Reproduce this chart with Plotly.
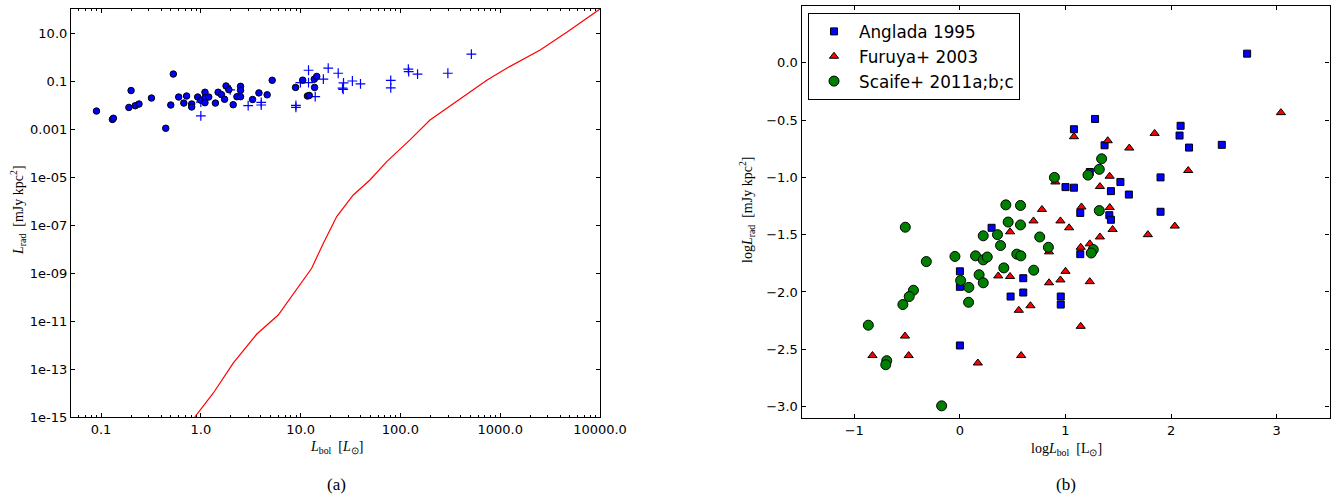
import plotly.graph_objects as go

# ---------------- Panel (a) data ----------------
lbol_circ = [0.090, 0.130, 0.133, 0.19, 0.20, 0.22, 0.24, 0.32, 0.445, 0.53, 0.50, 0.60, 0.675, 0.72,
             0.81, 0.81, 0.93, 1.0, 1.10, 1.10, 1.10, 1.20, 1.40, 1.49, 1.61, 1.73, 1.79, 1.91, 2.11,
             2.30, 2.50, 2.50, 2.50, 3.30, 3.82, 4.62, 5.19, 8.9, 10.5, 11.7, 12.2, 13.8, 13.7, 14.5]
lrad_circ = [5.6e-3, 2.5e-3, 2.8e-3, 7.9e-3, 0.040, 9.3e-3, 0.011, 0.0195, 1.07e-3, 0.195, 0.010,
             0.0215, 0.012, 0.0237, 0.011, 8.3e-3, 0.0215, 0.0158, 0.034, 0.020, 0.0125, 0.0215,
             0.012, 0.034, 0.027, 0.0173, 0.062, 0.0435, 0.0103, 0.0222, 0.060, 0.041, 0.0222,
             0.017, 0.032, 0.0266, 0.107, 0.054, 0.108, 0.0237, 0.025, 0.054, 0.119, 0.155]

lbol_plus = [1.0, 1.0, 1.97, 2.98, 4.03, 4.03, 8.97, 8.97, 9.95, 12.0, 12.0, 14.0, 16.9, 18.9, 23.8,
             26.9, 26.3, 26.7, 33.0, 39.8, 80, 80, 120, 121, 148.5, 299, 514]
lrad_plus = [0.0133, 3.55e-3, 0.043, 9.5e-3, 0.0129, 0.010, 9.7e-3, 8.0e-3, 0.085, 0.28, 0.085,
             0.0222, 0.119, 0.345, 0.21, 0.083, 0.050, 0.0447, 0.1, 0.076, 0.106, 0.052, 0.31,
             0.245, 0.195, 0.21, 1.31]

lbol_line = [0.87, 1.33, 2.11, 3.62, 5.96, 8.77, 12.9, 16.9, 23.0, 33.7, 49.5, 72.9, 124.7, 198,
             740, 1172, 2512, 4688, 10000]
lrad_line = [1.0e-15, 9.8e-15, 1.74e-13, 2.8e-12, 1.78e-11, 1.66e-10, 1.58e-9, 1.74e-8, 2.24e-7,
             1.78e-6, 7.5e-6, 4.4e-5, 3.5e-4, 2.37e-3, 0.110, 0.348, 1.95, 11.0, 100]

a_xtickvals = [0.1, 1, 10, 100, 1000, 10000]
a_xticktext = ["0.1", "1.0", "10.0", "100.0", "1000.0", "10000.0"]
a_ytickvals = [1e-15, 1e-13, 1e-11, 1e-9, 1e-7, 1e-5, 1e-3, 1e-1, 10]
a_yticktext = ["1e-15", "1e-13", "1e-11", "1e-09", "1e-07", "1e-05", "0.001", "0.1", "10.0"]

# ---------------- Panel (b) data ----------------
ang_x = [1.0, 0.30, 0.0, 0.0, 0.60, 0.60, 0.48, 0.955, 0.955, 0.0, 2.72, 1.28, 1.08, 2.09, 2.08,
         1.37, 2.17, 2.48, 1.23, 1.08, 1.52, 1.90, 1.43, 1.60, 1.14, 1.415, 1.43, 1.90, 1.14]
ang_y = [-1.085, -1.44, -1.82, -1.955, -1.88, -2.005, -2.04, -2.04, -2.11, -2.467, 0.08, -0.49,
         -0.58, -0.55, -0.635, -0.72, -0.74, -0.716, -0.953, -1.09, -1.04, -1.00, -1.12, -1.15,
         -1.31, -1.33, -1.37, -1.30, -1.67]

fur_x = [0.904, 0.777, 0.697, 0.952, 1.034, 0.475, 0.844, 1.0, 0.363, 0.475, 0.844, 0.952, 0.558,
         0.668, -0.52, -0.828, -0.485, 0.17, 0.58, 3.04, 1.08, 1.40, 1.844, 1.604, 2.162, 1.418,
         1.326, 1.151, 1.419, 1.446, 1.326, 1.78, 2.035, 1.144, 1.23, 1.23, 1.144]
fur_y = [-1.04, -1.28, -1.38, -1.38, -1.44, -1.475, -1.65, -1.82, -1.86, -1.865, -1.92, -1.895,
         -2.16, -2.12, -2.385, -2.555, -2.555, -2.62, -2.555, -0.435, -0.645, -0.68, -0.616,
         -0.744, -0.94, -0.99, -1.08, -1.258, -1.263, -1.455, -1.52, -1.50, -1.425, -1.61, -1.58,
         -1.91, -2.30]

sca_x = [0.895, 0.435, 0.574, -0.517, 0.457, 0.574, 0.221, 0.356, 0.756, 0.385, 0.838, -0.047,
         0.148, 0.221, 0.259, 0.539, 0.577, -0.318, 0.416, 0.699, 0.182, 0.007, 0.221, 0.085,
         -0.44, -0.48, -0.54, 0.082, -0.867, -0.693, -0.702, -0.173, 1.342, 1.32, 1.213, 1.32,
         1.263, 1.244]
sca_y = [-1.00, -1.24, -1.245, -1.435, -1.39, -1.415, -1.51, -1.50, -1.52, -1.595, -1.61, -1.69,
         -1.685, -1.72, -1.695, -1.67, -1.685, -1.735, -1.79, -1.81, -1.85, -1.90, -1.92, -1.96,
         -1.985, -2.04, -2.11, -2.09, -2.29, -2.60, -2.635, -2.994, -0.838, -0.93, -0.98, -1.29,
         -1.63, -1.66]

b_xtickvals = [-1, 0, 1, 2, 3]
b_xticktext = ["\u22121", "0", "1", "2", "3"]
b_ytickvals = [0.5, 0.0, -0.5, -1.0, -1.5, -2.0, -2.5, -3.0]
b_yticktext = ["0.5", "0.0", "\u22120.5", "\u22121.0", "\u22121.5", "\u22122.0", "\u22122.5", "\u22123.0"]

series_names = ["Anglada 1995", "Furuya+ 2003", "Scaife+ 2011a;b;c"]

W, H = 1344, 499
fig = go.Figure()

# panel (a)
fig.add_trace(go.Scatter(x=lbol_line, y=lrad_line, mode="lines", line=dict(color="red", width=1.2),
                         xaxis="x", yaxis="y", showlegend=False))
fig.add_trace(go.Scatter(x=lbol_plus, y=lrad_plus, mode="markers", xaxis="x", yaxis="y",
                         marker=dict(symbol="cross-thin", size=7, color="#0000ff",
                                     line=dict(color="#0000ff", width=1.2)), showlegend=False))
fig.add_trace(go.Scatter(x=lbol_circ, y=lrad_circ, mode="markers", xaxis="x", yaxis="y",
                         marker=dict(symbol="circle", size=6.5, color="#0000ff",
                                     line=dict(color="black", width=1)), showlegend=False))

# panel (b)
fig.add_trace(go.Scatter(x=ang_x, y=ang_y, mode="markers", xaxis="x2", yaxis="y2", name=series_names[0],
                         marker=dict(symbol="square", size=7, color="#0000ff",
                                     line=dict(color="black", width=1))))
fig.add_trace(go.Scatter(x=fur_x, y=fur_y, mode="markers", xaxis="x2", yaxis="y2", name=series_names[1],
                         marker=dict(symbol="triangle-up", size=8, color="#ff0000",
                                     line=dict(color="black", width=1))))
fig.add_trace(go.Scatter(x=sca_x, y=sca_y, mode="markers", xaxis="x2", yaxis="y2", name=series_names[2],
                         marker=dict(symbol="circle", size=10, color="#008000",
                                     line=dict(color="black", width=1))))

# minor ticks for log x axis of panel (a)
minor_vals = [m * 10.0 ** k for k in range(-2, 4) for m in range(2, 10) if 0.05 <= m * 10.0 ** k <= 10000]

tickfont = dict(family="DejaVu Sans", size=13, color="black")
common = dict(showgrid=False, zeroline=False, showline=True, mirror="allticks", ticks="inside",
              ticklen=4, tickwidth=1, tickcolor="black", linecolor="black", linewidth=1.2,
              tickfont=tickfont, automargin=False)

fig.update_layout(
    width=W, height=H, margin=dict(l=0, r=0, t=0, b=0),
    paper_bgcolor="white", plot_bgcolor="white",
    xaxis=dict(type="log", range=[-1.30103, 4], domain=[71 / W, 600 / W], anchor="y",
               tickmode="array", tickvals=a_xtickvals, ticktext=a_xticktext,
               minor=dict(tickmode="array", tickvals=minor_vals, ticks="inside", ticklen=2,
                          tickcolor="black", showgrid=False), **common),
    yaxis=dict(type="log", range=[-15, 2], domain=[1 - 417 / H, 1 - 9 / H], anchor="x",
               tickmode="array", tickvals=a_ytickvals, ticktext=a_yticktext, **common),
    xaxis2=dict(range=[-1.5, 3.5], domain=[801.5 / W, 1329.5 / W], anchor="y2",
                tickmode="array", tickvals=b_xtickvals, ticktext=b_xticktext, **common),
    yaxis2=dict(range=[-3.1, 0.5], domain=[1 - 418 / H, 1 - 5.5 / H], anchor="x2",
                tickmode="array", tickvals=b_ytickvals, ticktext=b_yticktext, **common),
    legend=dict(x=808 / W, y=1 - 13 / H, xanchor="left", yanchor="top",
                bgcolor="white", bordercolor="black", borderwidth=1,
                font=dict(family="DejaVu Sans", size=16.8, color="black"), itemwidth=40,
                tracegroupgap=0),
    showlegend=True,
)

serif = "Liberation Serif"
ann = [
    dict(x=336 / W, y=1 - 447 / H, text="<i>L</i><sub>bol</sub>  [<i>L</i><sub>⊙</sub>]", size=14),
    dict(x=1066 / W, y=1 - 449 / H, text="log<i>L</i><sub>bol</sub>  [L<sub>⊙</sub>]", size=14),
    dict(x=336 / W, y=1 - 484 / H, text="(a)", size=17),
    dict(x=1066 / W, y=1 - 484 / H, text="(b)", size=17),
]
for a in ann:
    fig.add_annotation(x=a["x"], y=a["y"], xref="paper", yref="paper", text=a["text"],
                       showarrow=False, xanchor="center", yanchor="middle",
                       font=dict(family=serif, size=a["size"], color="black"))
fig.add_annotation(x=18 / W, y=1 - 210 / H, xref="paper", yref="paper",
                   text="<i>L</i><sub>rad</sub>  [mJy kpc<sup>2</sup>]", textangle=-90,
                   showarrow=False, xanchor="center", yanchor="middle",
                   font=dict(family=serif, size=14, color="black"))
fig.add_annotation(x=747 / W, y=1 - 210 / H, xref="paper", yref="paper",
                   text="log<i>L</i><sub>rad</sub>  [mJy kpc<sup>2</sup>]", textangle=-90,
                   showarrow=False, xanchor="center", yanchor="middle",
                   font=dict(family=serif, size=14, color="black"))

fig.write_html("out.html", config={"displayModeBar": False},
               post_script="document.body.style.margin='0';")
